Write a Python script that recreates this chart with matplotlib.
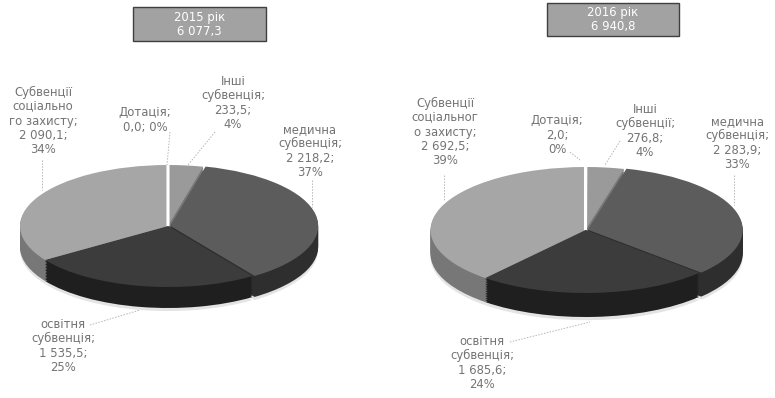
import matplotlib
matplotlib.use("Agg")
import matplotlib.pyplot as plt
import numpy as np

W, H = 775, 398
plt.rcParams['font.family'] = ['DejaVu Sans']

categories = ["Дотація", "Інші субвенції", "медична субвенція", "освітня субвенція", "Субвенції соціального захисту"]
values_2015 = [0.0, 233.5, 2218.2, 1535.5, 2090.1]
values_2016 = [2.0, 276.8, 2283.9, 1685.6, 2692.5]
title_2015 = "2015 рік\n6 077,3"
title_2016 = "2016 рік\n6 940,8"

top_colors = ["#ffffff", "#9a9a9a", "#5c5c5c", "#3c3c3c", "#a6a6a6"]
side_colors = ["#ffffff", "#777777", "#2e2e2e", "#1f1f1f", "#777777"]
explode = [0.0, 0.0, 0.015, 0.0, 0.0]

labels_2015 = [
    ("Дотація;\n0,0; 0%", 145, 120),
    ("Інші\nсубвенція;\n233,5;\n4%", 233, 103),
    ("медична\nсубвенція;\n2 218,2;\n37%", 310, 151),
    ("освітня\nсубвенція;\n1 535,5;\n25%", 63, 346),
    ("Субвенції\nсоціально\nго захисту;\n2 090,1;\n34%", 43, 121),
]
labels_2016 = [
    ("Дотація;\n2,0;\n0%", 557, 135),
    ("Інші\nсубвенції;\n276,8;\n4%", 645, 131),
    ("медична\nсубвенція;\n2 283,9;\n33%", 737, 143),
    ("освітня\nсубвенція;\n1 685,6;\n24%", 482, 363),
    ("Субвенції\nсоціальног\nо захисту;\n2 692,5;\n39%", 445, 132),
]
leaders_2015 = [((170, 132), (167, 165)), ((215, 132), (188, 165)), ((312, 180), (312, 207)),
                ((90, 325), (140, 310)), ((42, 160), (42, 190))]
leaders_2016 = [((570, 152), (580, 160)), ((620, 141), (605, 165)), ((734, 175), (734, 205)),
                ((510, 342), (590, 322)), ((444, 175), (444, 200))]

fig = plt.figure(figsize=(W / 100, H / 100), dpi=100, facecolor="white")

overlay = fig.add_axes([0, 0, 1, 1], zorder=5)
overlay.set_xlim(0, W)
overlay.set_ylim(H, 0)
overlay.axis("off")


def draw_pie(values, cx, cy, a, b, depth):
    margin = 1.03
    ax = fig.add_axes([(cx - a * margin) / W, 1 - (cy + b + depth + 4) / H,
                       2 * a * margin / W, (2 * b + depth + 4) / H], zorder=1)
    d = depth / b
    # soft shadow, then stacked side layers, then the top face
    ax.pie(values, radius=1.0, center=(0, -d - 0.05), startangle=90, counterclock=False,
           colors=["#e4e4e4"] * 5, explode=explode)
    for off in np.linspace(d, 0.02, 14):
        ax.pie(values, radius=1.0, center=(0, -off), startangle=90, counterclock=False,
               colors=side_colors, explode=explode)
    wedges, _ = ax.pie(values, radius=1.0, center=(0, 0), startangle=90, counterclock=False,
                       colors=top_colors, explode=explode)
    wedges[0].set(edgecolor="white", linewidth=2.2, zorder=20)
    ax.set_aspect("auto")
    ax.set_xlim(-margin, margin)
    ax.set_ylim(-1 - d - 4 / b, 1)
    ax.axis("off")


def draw_texts(labels, leaders, title, tx, ty, tw, th):
    for (p, q) in leaders:
        overlay.plot([p[0], q[0]], [p[1], q[1]], color="#b5b5b5", lw=0.7, ls=(0, (1.5, 1.5)))
    for text, x, y in labels:
        overlay.text(x, y, text, ha="center", va="center", fontsize=8.4,
                     color="#747474", linespacing=1.13)
    overlay.add_patch(plt.Rectangle((tx, ty), tw, th, facecolor="#a2a2a2",
                                    edgecolor="#3f3f3f", lw=1.0))
    overlay.text(tx + tw / 2, ty + th / 2, title, ha="center", va="center",
                 fontsize=8.4, color="white", linespacing=1.1)


draw_pie(values_2015, 168, 226, 148, 61, 21)
draw_pie(values_2016, 585.5, 230, 155, 63, 24)
draw_texts(labels_2015, leaders_2015, title_2015, 133, 7, 133, 34)
draw_texts(labels_2016, leaders_2016, title_2016, 547, 3, 132, 33)

fig.savefig("out.png", dpi=100, facecolor="white")
